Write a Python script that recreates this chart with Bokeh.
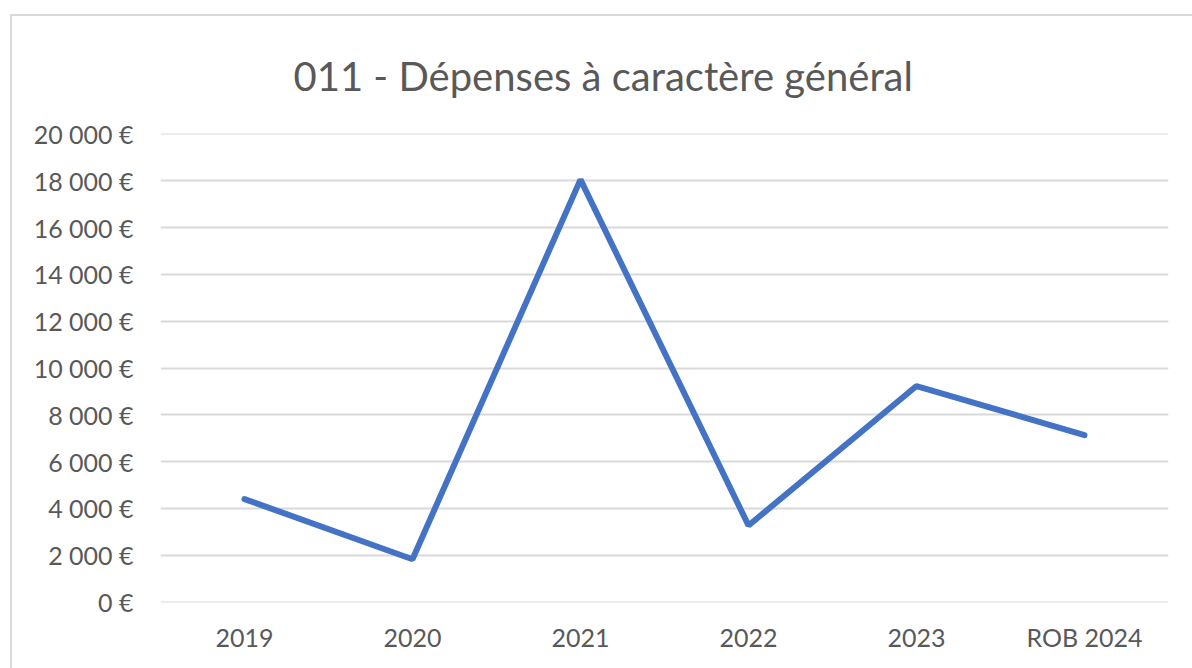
from bokeh.plotting import figure
from bokeh.models import FactorRange, Range1d, FixedTicker, InlineStyleSheet
from bokeh.embed import file_html
from bokeh.resources import INLINE

title_text = "011 - Dépenses à caractère général"
categories = ["2019", "2020", "2021", "2022", "2023", "ROB 2024"]
values = [4400, 1830, 18050, 3270, 9230, 7130]
y_ticks = [0, 2000, 4000, 6000, 8000, 10000, 12000, 14000, 16000, 18000, 20000]
y_tick_labels = ["0 €", "2 000 €", "4 000 €", "6 000 €", "8 000 €", "10 000 €",
                 "12 000 €", "14 000 €", "16 000 €", "18 000 €", "20 000 €"]

FONT = "Lato"
TXT = "#595959"

p = figure(x_range=FactorRange(*categories, range_padding=0),
           y_range=Range1d(-20, 20020),
           width=1192, height=668, output_backend="svg", toolbar_location=None,
           min_border_left=160, min_border_right=24, min_border_top=133, min_border_bottom=66)
p.border_fill_color = None
p.background_fill_color = "white"
css = (":host { background: "
       "linear-gradient(#d9d9d9,#d9d9d9) 10px 14px / 2px 100% no-repeat, "
       "linear-gradient(#d9d9d9,#d9d9d9) 10px 14px / 100% 2px no-repeat, white; }")
p.stylesheets = [InlineStyleSheet(css=css)]

p.title.text = title_text
p.title.text_font = FONT
p.title.text_font_size = "40px"
p.title.text_font_style = "normal"
p.title.text_color = TXT
p.title.align = "left"
p.title.offset = 133
p.title.standoff = 67

p.outline_line_color = None
p.xgrid.grid_line_color = None
p.ygrid.grid_line_color = "#d9d9d9"
p.ygrid.grid_line_width = 2

p.yaxis.ticker = FixedTicker(ticks=y_ticks)
p.yaxis.major_label_overrides = dict(zip(y_ticks, y_tick_labels))
for ax in (p.xaxis[0], p.yaxis[0]):
    ax.axis_line_color = None
    ax.major_tick_line_color = None
    ax.minor_tick_line_color = None
    ax.major_label_text_font = FONT
    ax.major_label_text_font_size = "25px"
    ax.major_label_text_color = TXT
p.yaxis.major_label_standoff = 21
p.xaxis.major_label_standoff = 13

p.line(x=categories, y=values, line_width=6, line_color="#4472C4", line_cap="round")

open("out.html", "w").write(file_html(p, INLINE))
